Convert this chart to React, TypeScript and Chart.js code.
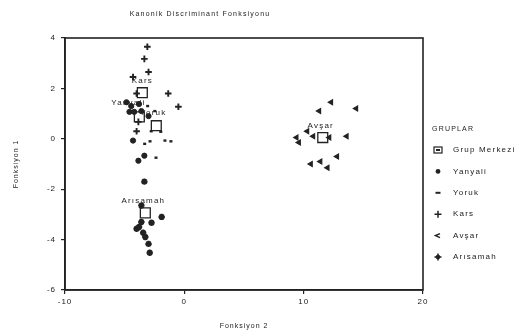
import React, { useEffect, useRef } from 'react';
import { Chart, registerables } from 'chart.js';

Chart.register(...registerables);

const chartTitle = 'Kanonik Discriminant Fonksiyonu';
const xAxisTitle = 'Fonksiyon 2';
const yAxisTitle = 'Fonksiyon 1';
const legendTitle = 'GRUPLAR';
const centroidName = 'Grup Merkezi';

const groupNames = ['Yanyali', 'Yoruk', 'Kars', 'Avşar', 'Arısamah'];

const yanyaliX = [-4.85, -4.45, -3.8, -3.6, -4.6, -4.2, -4.3, -3.85, -3.35, -3.0];
const yanyaliY = [1.45, 1.3, 1.38, 1.1, 1.07, 1.07, -0.07, -0.87, -0.67, 0.9];

const yorukX = [-3.2, -2.6, -2.1, -3.45, -3.0, -1.75, -1.25, -2.5, -2.9];
const yorukY = [1.3, 1.1, 0.28, -0.2, -0.1, -0.07, -0.1, -0.75, 0.3];

const karsX = [-3.1, -3.35, -3.0, -4.3, -0.5, -3.85, -4.0, -4.0, -1.35];
const karsY = [3.65, 3.17, 2.65, 2.45, 1.27, 0.67, 0.3, 1.8, 1.8];

const avsarX = [12.3, 11.3, 14.4, 10.3, 9.4, 9.6, 10.8, 13.6, 12.8, 10.6, 11.4, 12.0, 12.15];
const avsarY = [1.45, 1.1, 1.2, 0.3, 0.05, -0.15, 0.1, 0.1, -0.7, -1.0, -0.9, -1.15, 0.05];

const arisamahX = [-3.35, -3.6, -1.9, -2.75, -3.8, -4.0, -3.45, -3.27, -3.0, -2.9, -3.6];
const arisamahY = [-1.7, -2.65, -3.1, -3.33, -3.5, -3.57, -3.73, -3.9, -4.17, -4.52, -3.3];

const centroidX = [-3.77, -2.35, -3.52, 11.6, -3.27];
const centroidY = [0.87, 0.52, 1.83, 0.05, -2.94];

const xMin = -10, xMax = 20, xStep = 10;
const yMin = -6, yMax = 4, yStep = 2;

const INK = '#222';
const FONT = "'Liberation Sans', Arial, sans-serif";

const toPoints = (xs: number[], ys: number[]) => xs.map((x, i) => ({ x, y: ys[i] }));

const groupStyles: any[] = [
  { pointStyle: 'circle', radius: 2.6, borderWidth: 1 },
  { pointStyle: 'dash', radius: 3, borderWidth: 2.4 },
  { pointStyle: 'cross', radius: 3.3, borderWidth: 1.9 },
  { pointStyle: 'triangle', radius: 2.8, borderWidth: 1.2, rotation: -90 },
  { pointStyle: 'star', radius: 3.2, borderWidth: 2 },
];

const groupData = [
  toPoints(yanyaliX, yanyaliY),
  toPoints(yorukX, yorukY),
  toPoints(karsX, karsY),
  toPoints(avsarX, avsarY),
  toPoints(arisamahX, arisamahY),
];

function drawMarker(ctx: CanvasRenderingContext2D, kind: number, x: number, y: number) {
  ctx.save();
  ctx.strokeStyle = INK;
  ctx.fillStyle = INK;
  ctx.lineWidth = 1.5;
  ctx.beginPath();
  if (kind === -1) {
    ctx.lineWidth = 1.2;
    ctx.strokeRect(x - 4, y - 3, 8, 6);
    ctx.fillRect(x - 2, y - 1, 4, 2);
  } else if (kind === 0) {
    ctx.arc(x, y, 2.4, 0, Math.PI * 2);
    ctx.fill();
  } else if (kind === 1) {
    ctx.lineWidth = 2;
    ctx.moveTo(x - 2.5, y);
    ctx.lineTo(x + 2.5, y);
    ctx.stroke();
  } else if (kind === 2) {
    ctx.moveTo(x - 3.5, y);
    ctx.lineTo(x + 3.5, y);
    ctx.moveTo(x, y - 3.5);
    ctx.lineTo(x, y + 3.5);
    ctx.stroke();
  } else if (kind === 3) {
    ctx.moveTo(x + 2, y - 2);
    ctx.lineTo(x - 2.5, y);
    ctx.lineTo(x + 2, y + 2);
    ctx.stroke();
  } else {
    ctx.arc(x, y, 2.3, 0, Math.PI * 2);
    ctx.fill();
    ctx.beginPath();
    ctx.moveTo(x - 3.5, y);
    ctx.lineTo(x + 3.5, y);
    ctx.moveTo(x, y - 3.5);
    ctx.lineTo(x, y + 3.5);
    ctx.stroke();
  }
  ctx.restore();
}

const decorPlugin = {
  id: 'decor',
  beforeDraw(chart: any) {
    const ctx = chart.ctx as any;
    ctx.letterSpacing = '1px';
  },
  afterDraw(chart: any) {
    const ctx = chart.ctx as CanvasRenderingContext2D & { letterSpacing: string };
    const a = chart.chartArea;
    ctx.save();
    // frame
    ctx.strokeStyle = INK;
    ctx.lineWidth = 1.6;
    ctx.strokeRect(a.left, a.top, a.right - a.left, a.bottom - a.top);

    ctx.fillStyle = INK;
    ctx.letterSpacing = '1.2px';
    // title
    ctx.font = `7px ${FONT}`;
    ctx.textAlign = 'center';
    ctx.textBaseline = 'middle';
    ctx.fillText(chartTitle, a.left + 135, a.top - 24);

    // centroid labels
    const xs = chart.scales.x, ys = chart.scales.y;
    ctx.font = `8px ${FONT}`;
    const labelShift = [[-11, -14], [-3, -13], [0, -12], [-2, -12], [-2, -12]];
    groupNames.forEach((n, i) => {
      const px = xs.getPixelForValue(centroidX[i]);
      const py = ys.getPixelForValue(centroidY[i]);
      ctx.fillText(n, px + labelShift[i][0], py + labelShift[i][1]);
    });

    // legend
    ctx.textAlign = 'left';
    ctx.font = `7px ${FONT}`;
    const lx = a.right + 9;
    ctx.fillText(legendTitle, lx, a.top + 91);
    const names = [centroidName, ...groupNames];
    ctx.font = `8px ${FONT}`;
    names.forEach((n, i) => {
      const y = a.top + 112 + i * 21.4;
      drawMarker(ctx, i - 1, lx + 6, y);
      ctx.fillText(n, lx + 21, y);
    });
    ctx.restore();
  },
};

export default function App() {
  const ref = useRef<HTMLCanvasElement | null>(null);
  useEffect(() => {
    if (!ref.current) return;
    const datasets: any[] = groupData.map((d, i) => ({
      label: groupNames[i],
      data: d,
      pointStyle: groupStyles[i].pointStyle,
      pointRadius: groupStyles[i].radius,
      pointBorderWidth: groupStyles[i].borderWidth,
      pointRotation: groupStyles[i].rotation || 0,
      pointBackgroundColor: INK,
      pointBorderColor: INK,
      showLine: false,
    }));
    datasets.push({
      label: centroidName,
      data: toPoints(centroidX, centroidY),
      pointStyle: 'rect',
      pointRadius: 7,
      pointBorderWidth: 1.3,
      pointBackgroundColor: 'rgba(255,255,255,0.6)',
      pointBorderColor: INK,
      showLine: false,
    });
    const chart = new Chart(ref.current, {
      type: 'scatter',
      data: { datasets },
      options: {
        animation: false,
        responsive: false,
        maintainAspectRatio: false,
        layout: { padding: { left: 0, right: 99, top: 38, bottom: 0 } },
        plugins: {
          legend: { display: false },
          title: { display: false },
          tooltip: { enabled: false },
        },
        scales: {
          x: {
            type: 'linear',
            min: xMin,
            max: xMax,
            ticks: { stepSize: xStep, color: INK, font: { family: FONT, size: 8 }, padding: 3 },
            grid: { display: true, drawOnChartArea: false, drawTicks: true, tickLength: 4, color: INK, lineWidth: 1.2 },
            border: { display: true, color: INK, width: 1.6 },
            title: { display: true, text: xAxisTitle, color: INK, font: { family: FONT, size: 7 }, padding: { top: 12, bottom: 6 } },
            afterFit: (s: any) => { s.height = 46; },
          },
          y: {
            type: 'linear',
            min: yMin,
            max: yMax,
            ticks: { stepSize: yStep, color: INK, font: { family: FONT, size: 8 }, padding: 5 },
            grid: { display: true, drawOnChartArea: false, drawTicks: true, tickLength: 4, color: INK, lineWidth: 1.2 },
            border: { display: true, color: INK, width: 1.6 },
            title: { display: true, text: yAxisTitle, color: INK, font: { family: FONT, size: 7 }, padding: { top: 12, bottom: 4 } },
            afterFit: (s: any) => { s.width = 65; },
          },
        },
      },
      plugins: [decorPlugin],
    });
    return () => chart.destroy();
  }, []);
  return (
    <div style={{ position: 'absolute', left: 0, top: 0, width: 522, height: 336, background: '#fff' }}>
      <canvas ref={ref} width={522} height={336} />
    </div>
  );
}
